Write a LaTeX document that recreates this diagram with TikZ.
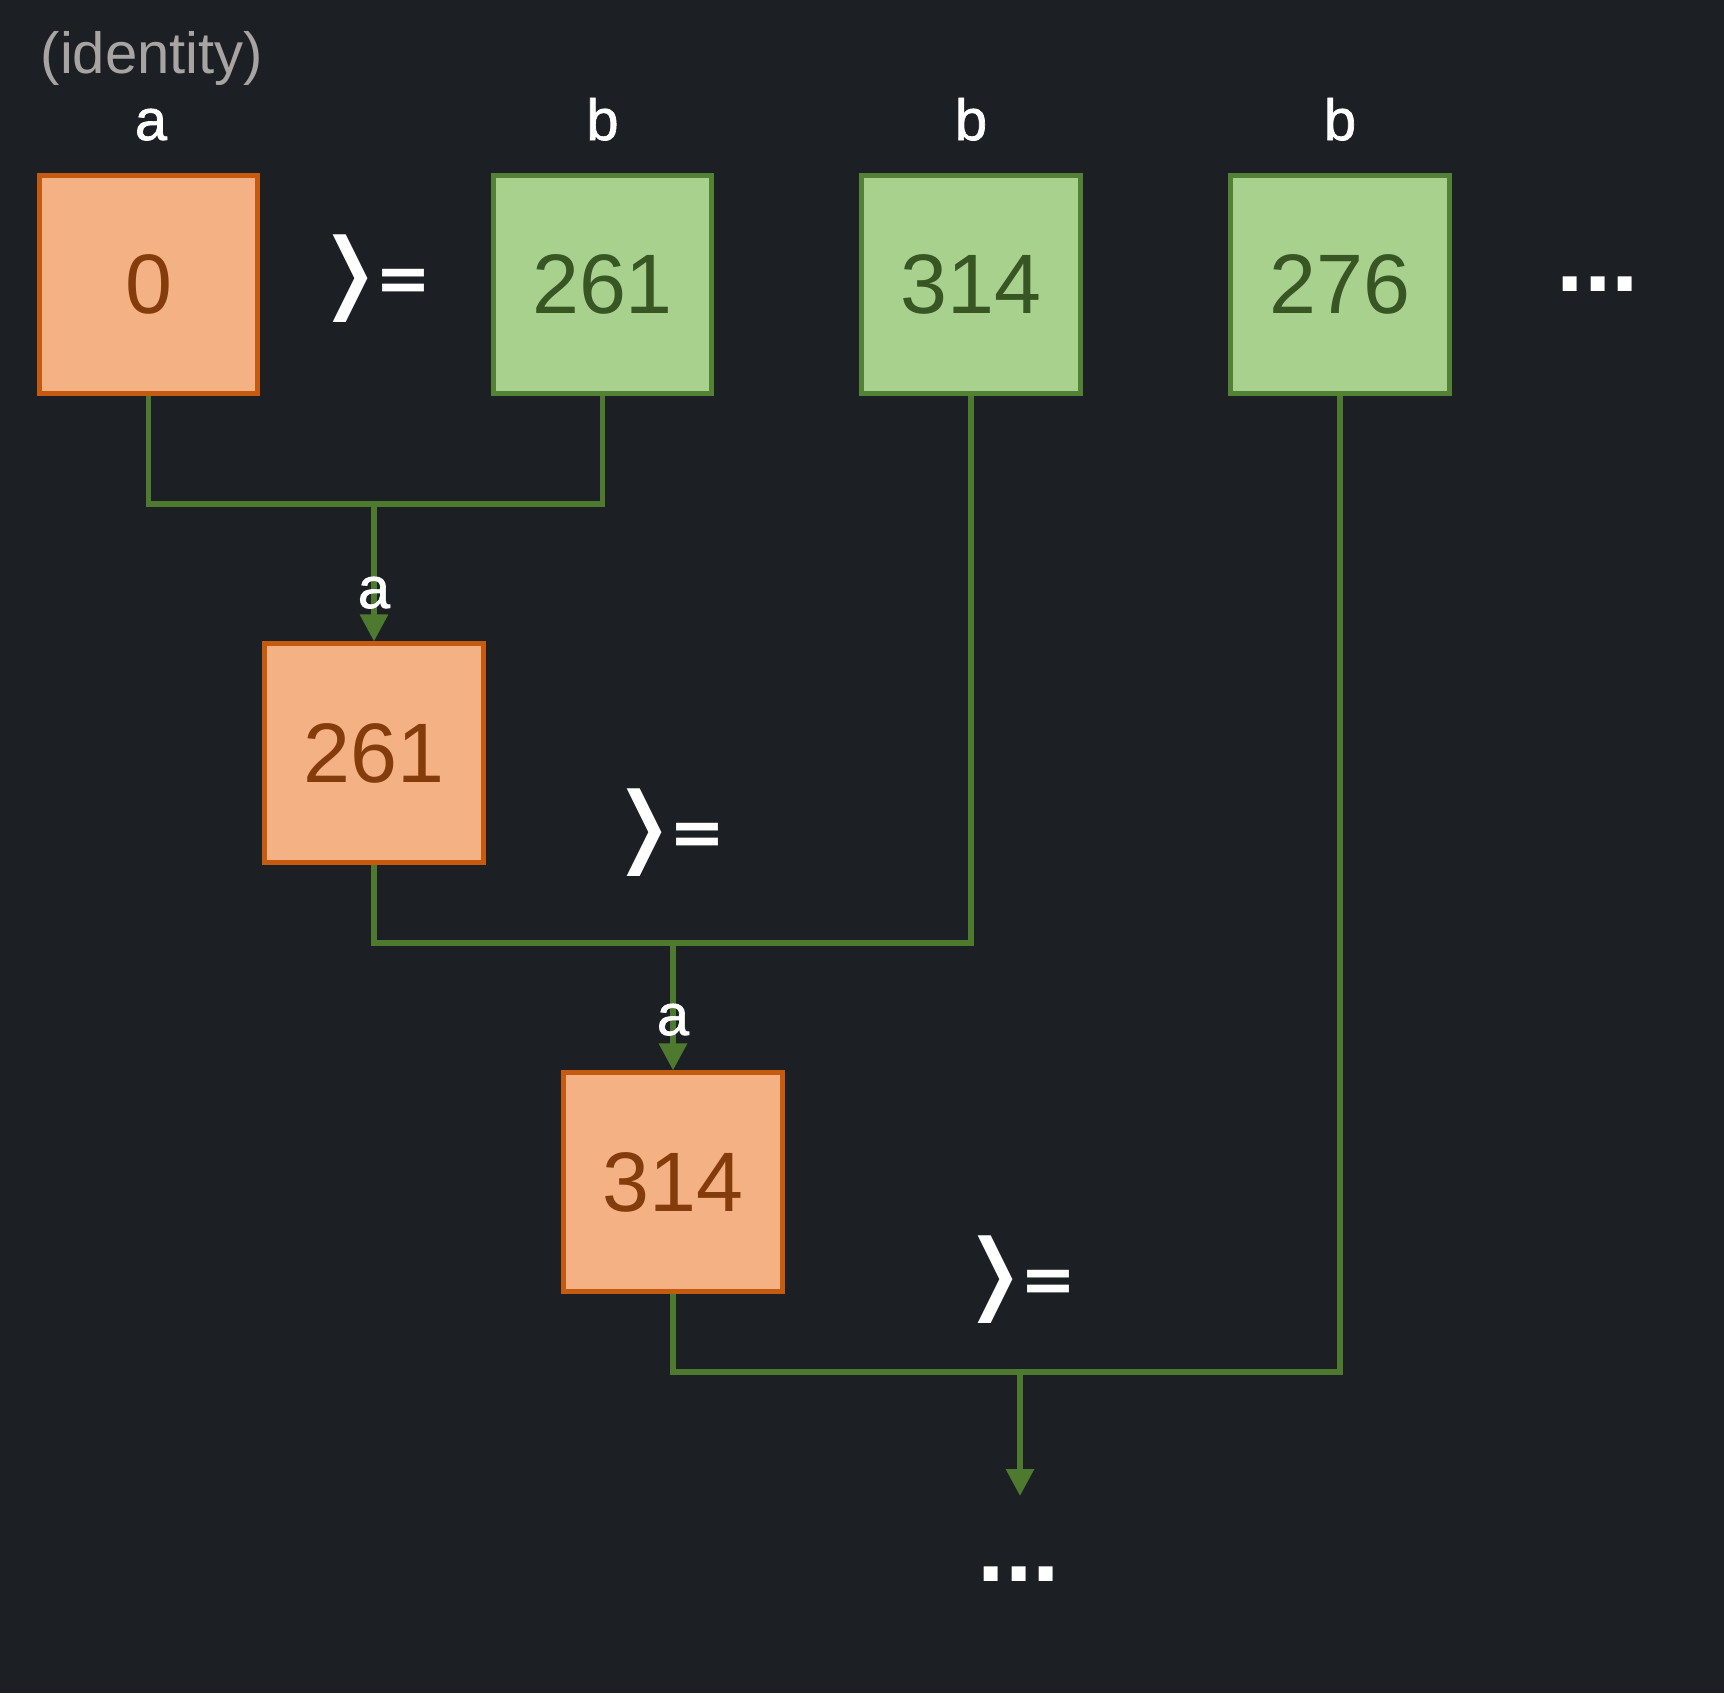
\documentclass[tikz,border=0pt]{standalone}
\usepackage{graphicx}
\usepackage{fontspec}
\setmainfont{Liberation Sans}
\newfontfamily\symfont{DejaVu Sans}
\newfontfamily\medfont{Liberation Sans}[FakeBold=1.2]
\usetikzlibrary{arrows.meta}

\definecolor{bgdark}{HTML}{1C1F24}
\definecolor{accfill}{HTML}{F4B183}
\definecolor{accline}{HTML}{C55A11}
\definecolor{acctext}{HTML}{843C0C}
\definecolor{itemfill}{HTML}{A9D18E}
\definecolor{itemline}{HTML}{538135}
\definecolor{itemtext}{HTML}{375623}
\definecolor{linkgreen}{HTML}{4E7A2F}
\definecolor{notegray}{HTML}{A8A4A2}

\tikzset{
  accbox/.style={draw=accline, fill=accfill, text=acctext, line width=1.42pt,
    minimum size=2.18cm, inner sep=0pt, font=\fontsize{24}{24}\selectfont},
  itembox/.style={accbox, draw=itemline, fill=itemfill, text=itemtext},
  varlabel/.style={text=white, anchor=base, inner sep=0pt, font=\medfont\fontsize{16.5}{16.5}\selectfont},
  bindop/.style={text=white, inner sep=0pt, font=\symfont\fontsize{19}{19}\selectfont},
  moredots/.style={text=white, anchor=base, inner sep=0pt, font=\bfseries\fontsize{28}{28}\selectfont},
  link/.style={draw=linkgreen, line width=1.7pt},
  feed/.style={link, -{Triangle[width=0.27cm,length=0.27cm]}}
}
\newcommand{\bindsym}{\scalebox{1.6}[1]{\fontsize{28}{28}\selectfont ⟩}\kern-2pt\raisebox{2.5pt}{\textbf{=}}}

\begin{document}
\begin{tikzpicture}[x=0.01cm,y=-0.01cm]
    \fill[bgdark] (0,0) rectangle (1724,1693);% background
    \useasboundingbox (0,0) rectangle (1724,1693);
    % accumulator and list items
    \node[accbox] (acc0) at (148.5,284.5) {0};
    \node[itembox] (item1) at (602.5,284.5) {261};
    \node[itembox] (item2) at (971,284.5) {314};
    \node[itembox] (item3) at (1340,284.5) {276};
    \node[accbox] (acc1) at (374,753) {261};
    \node[accbox] (acc2) at (673,1182) {314};
    % labels on top
    \node[varlabel, text=notegray, font=\fontsize{16.5}{16.5}\selectfont] (idnote) at (152,73) {(identity)};
    \node[varlabel] (lbla) at (151,140) {a};
    \foreach \n/\x in {1/602.5,2/971,3/1340}
      \node[varlabel] (lblb\n) at (\x,140) {b};
    % operators
    \node[bindop] (op1) at (376,279) {\bindsym};
    \node[bindop] (op2) at (670,833) {\bindsym};
    \node[bindop] (op3) at (1021,1280) {\bindsym};
    % joins
    \coordinate (m1) at (374,504);
    \coordinate (m2) at (673,943);
    \coordinate (m3) at (1020,1372);
    \coordinate (tail) at (1020,1496);
    \draw[link] (acc0.south) |- (m1) -| (item1.south);
    \draw[link] (acc1.south) |- (m2) -| (item2.south);
    \draw[link] (acc2.south) |- (m3) -| (item3.south);
    \draw[feed] (m1) -- (acc1.north);
    \draw[feed] (m2) -- (acc2.north);
    \draw[feed] (m3) -- (tail);
    \node[varlabel] (arra1) at (374,608) {a};
    \node[varlabel] (arra2) at (673,1035) {a};
    % continuation
    \node[moredots] (dotsr) at (1598,291) {...};
    \node[moredots] (dotsd) at (1019,1581) {...};
\end{tikzpicture}
\end{document}
